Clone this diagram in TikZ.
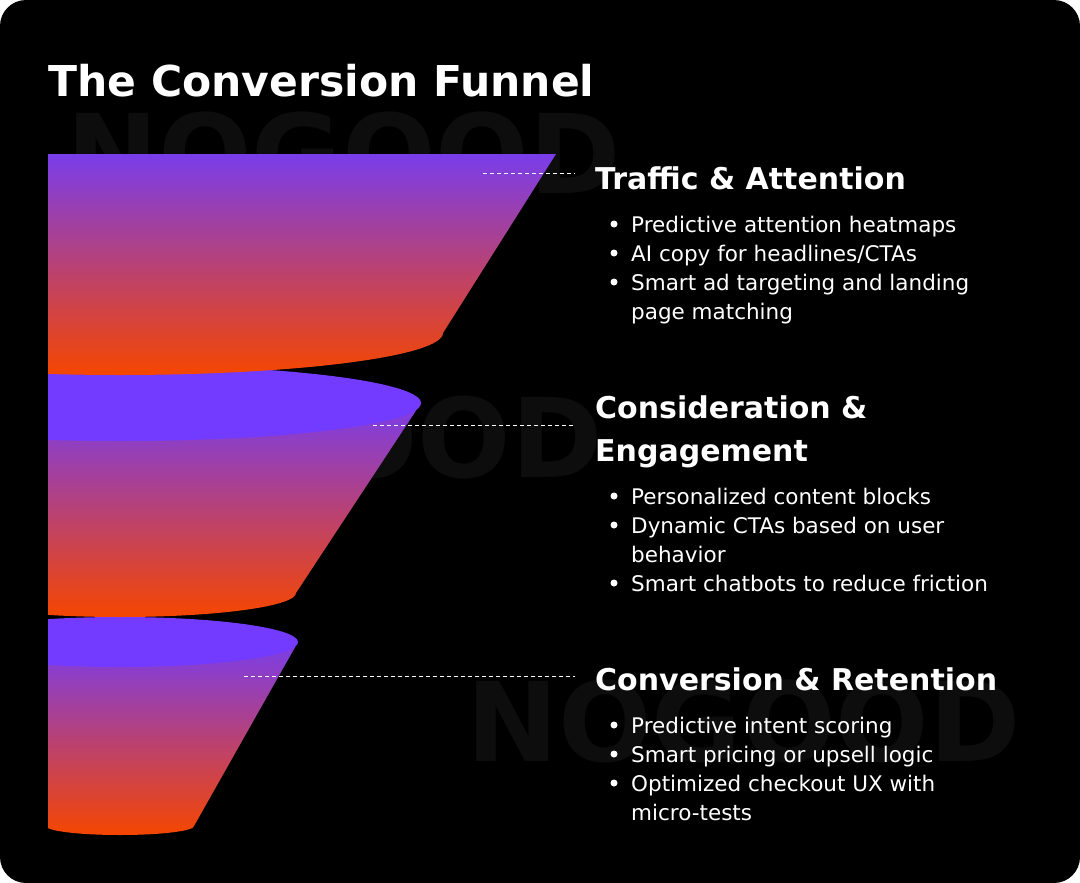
\documentclass[tikz,border=0pt]{standalone}
\usepackage{fontspec}
\setmainfont{DejaVu Sans}
\usetikzlibrary{positioning}
\definecolor{fpurple}{HTML}{7A3DEB}
\definecolor{ftop}{HTML}{733AFF}
\definecolor{forange}{HTML}{F54600}
\definecolor{wmark}{HTML}{0D0D0D}
\tikzset{
  head/.style={anchor=base west, text=white, font=\fontsize{30}{40}\selectfont\bfseries, inner sep=0pt},
  item/.style={anchor=base west, text=white, font=\fontsize{21.5}{29}\selectfont, inner sep=0pt},
  dot/.style={circle, fill=white, inner sep=0pt, minimum size=7pt},
  guide/.style={white, dash pattern=on 4pt off 3pt, line width=0.8pt},
  water/.style={anchor=north west, text=wmark, font=\fontsize{110}{110}\selectfont\bfseries, inner sep=0pt}
}
\begin{document}
\begin{tikzpicture}[x=1pt, y=-1pt]
  \useasboundingbox (0,0) rectangle (1080,883);
  \fill[white] (0,0) rectangle (1080,883);
  \fill[black, rounded corners=26pt] (0,0) rectangle (1080,883);

  % watermarks
  \node[water] (w1) at (66,112) {NOGOOD};
  \node[water] (w2) at (48,396) {NOGOOD};
  \node[water] (w3) at (466,680) {NOGOOD};

  % title
  \node[anchor=base west, text=white, font=\fontsize{42.5}{50}\selectfont\bfseries, inner sep=0pt] (title) at (48,96) {The Conversion Funnel};

  % funnel, back to front
  \begin{scope}
    \clip (48,0) rectangle (1080,883);
    % stage 3
    \shade[top color=fpurple, bottom color=forange]
      (48,642) -- (298,642) -- (194,826) arc[start angle=0, end angle=180, x radius=74, y radius=9] -- cycle;
    \fill[ftop] (120,642) ellipse[x radius=178, y radius=25];
    % stage 2
    \shade[top color=fpurple, bottom color=forange]
      (48,403) -- (421,403) -- (296,593) arc[start angle=0, end angle=180, x radius=176, y radius=24] -- cycle;
    \fill[ftop] (120,403) ellipse[x radius=301, y radius=38];
    % stage 1
    \shade[top color=fpurple, bottom color=forange]
      (48,154) -- (556,154) -- (443,333) arc[start angle=0, end angle=180, x radius=323, y radius=42] -- cycle;
  \end{scope}

  % stage texts
  \node[head] (h1) at (595,189) {Traffic \& Attention};
  \node[item] (a1) at (631,232) {Predictive attention heatmaps};
  \node[item] (a2) at (631,261) {AI copy for headlines/CTAs};
  \node[item] (a3) at (631,290) {Smart ad targeting and landing};
  \node[item] (a4) at (631,319) {page matching};

  \node[head] (h2) at (595,418) {Consideration \&};
  \node[head] (h2b) at (595,461) {Engagement};
  \node[item] (b1) at (631,504) {Personalized content blocks};
  \node[item] (b2) at (631,533) {Dynamic CTAs based on user};
  \node[item] (b2b) at (631,562) {behavior};
  \node[item] (b3) at (631,591) {Smart chatbots to reduce friction};

  \node[head] (h3) at (595,690) {Conversion \& Retention};
  \node[item] (c1) at (631,733) {Predictive intent scoring};
  \node[item] (c2) at (631,762) {Smart pricing or upsell logic};
  \node[item] (c3) at (631,791) {Optimized checkout UX with};
  \node[item] (c3b) at (631,820) {micro-tests};

  % bullets
  \foreach \n/\y in {p1/224, p2/253, p3/282, q1/496, q2/525, q3/583, r1/725, r2/754, r3/783}
    \node[dot] (\n) at (614,\y) {};

  % guides
  \coordinate (g1) at (483,173);
  \coordinate (g2) at (373,425);
  \coordinate (g3) at (244,676);
  \draw[guide] (g1) -- (g1 -| 575,0);
  \draw[guide] (g2) -- (g2 -| 575,0);
  \draw[guide] (g3) -- (g3 -| 575,0);
\end{tikzpicture}
\end{document}
